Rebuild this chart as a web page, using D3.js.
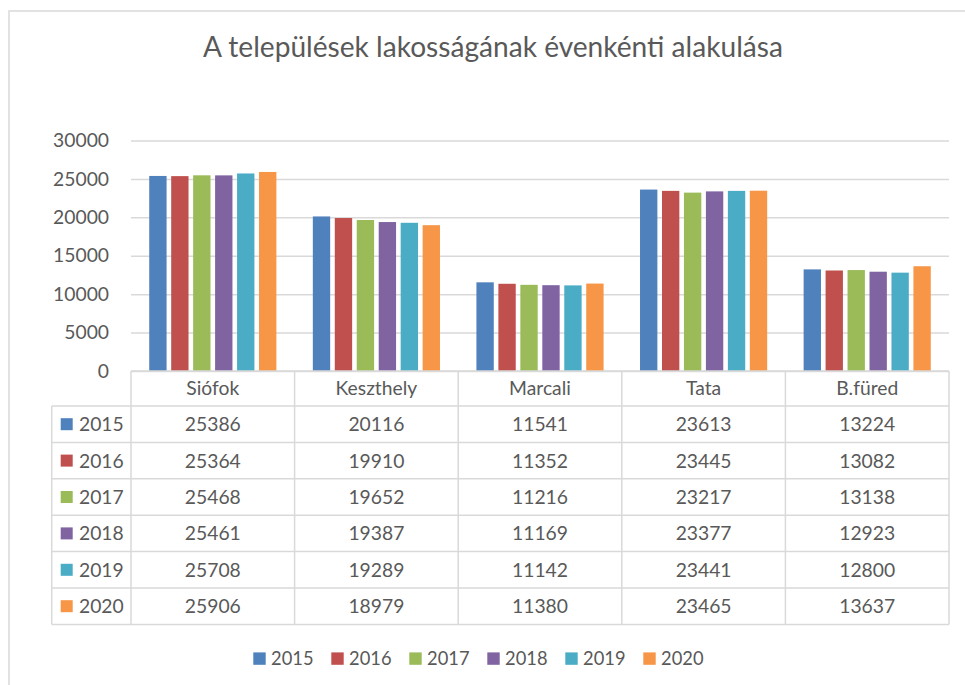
<!DOCTYPE html>
<html><head><meta charset="utf-8">
<script src="https://cdn.jsdelivr.net/npm/d3@7"></script>
<style>
body{margin:0;background:#fff;}
text{font-family:Lato,"Open Sans",sans-serif;fill:#595959;}
</style>
</head><body><svg id="c" width="965" height="685"></svg>
<script>
const title = "A települések lakosságának évenkénti alakulása";
const categories = ["Siófok","Keszthely","Marcali","Tata","B.füred"];
const years = ["2015","2016","2017","2018","2019","2020"];
const v2015 = [25386,20116,11541,23613,13224];
const v2016 = [25364,19910,11352,23445,13082];
const v2017 = [25468,19652,11216,23217,13138];
const v2018 = [25461,19387,11169,23377,12923];
const v2019 = [25708,19289,11142,23441,12800];
const v2020 = [25906,18979,11380,23465,13637];
const series = [v2015,v2016,v2017,v2018,v2019,v2020];
const colors = ["#4F81BD","#C0504D","#9BBB59","#8064A2","#4BACC6","#F79646"];
const yTicks = [0,5000,10000,15000,20000,25000,30000];

const svg = d3.select("#c");
const grid = "#d9d9d9";

// chart frame
svg.append("rect").attr("x",9).attr("y",11).attr("width",1000).attr("height",720)
  .attr("fill","#fff").attr("stroke",grid).attr("stroke-width",1.5);

// title (fit to the reference width)
const tt = svg.append("text").attr("x",493).attr("y",56.5).attr("text-anchor","middle")
  .style("font-size","27px").text(title);
const tw = tt.node().getComputedTextLength();
if (tw > 0) tt.style("font-size", (27*580/tw).toFixed(2)+"px");

const plotL=131, plotR=949, y0=371, yTop=140.5;
const x = d3.scaleBand().domain(categories).range([plotL,plotR]).padding(0);
const xi = d3.scaleBand().domain(years).range([0,x.bandwidth()]).paddingInner(0.21).paddingOuter(0.83);
const y = d3.scaleLinear().domain([0,30000]).range([y0,yTop]);

// gridlines + y labels
const yAxis = d3.axisLeft(y).tickValues(yTicks).tickFormat(d3.format("d"))
  .tickSize(-(plotR-plotL)).tickPadding(22);
const ga = svg.append("g").attr("transform",`translate(${plotL},0)`).call(yAxis);
ga.select(".domain").remove();
ga.selectAll(".tick line").attr("stroke",grid).attr("stroke-width",1.5);
ga.selectAll(".tick text").style("font-size","19.3px").style("font-family","Lato,'Open Sans',sans-serif").attr("fill","#595959");

// bars
years.forEach((yr,i)=>{
  svg.append("g").selectAll("rect").data(series[i]).join("rect")
    .attr("x",(d,j)=>x(categories[j])+xi(yr))
    .attr("y",d=>y(d))
    .attr("width",xi.bandwidth())
    .attr("height",d=>y0-y(d))
    .attr("fill",colors[i]);
});

// data table
const hTop=371, hBot=406, rowH=36.4, tLeft=51.7;
const rowY = d3.scaleBand().domain(years).range([hBot,hBot+rowH*years.length]);
const tBot = hBot+rowH*years.length;
const tg = svg.append("g").attr("stroke",grid).attr("stroke-width",1.5);
tg.append("line").attr("x1",plotL).attr("x2",plotR).attr("y1",hTop).attr("y2",hTop);
[hBot].concat(years.map(yr=>rowY(yr)+rowH)).forEach(yy=>{
  tg.append("line").attr("x1",tLeft).attr("x2",plotR).attr("y1",yy).attr("y2",yy);
});
categories.concat([null]).forEach((c,k)=>{
  const xx = c===null ? plotR : x(c);
  tg.append("line").attr("x1",xx).attr("x2",xx).attr("y1",hTop).attr("y2",tBot);
});
tg.append("line").attr("x1",tLeft).attr("x2",tLeft).attr("y1",hBot).attr("y2",tBot);

// header text
svg.append("g").selectAll("text").data(categories).join("text")
  .attr("x",d=>x(d)+x.bandwidth()/2).attr("y",(hTop+hBot)/2)
  .attr("dy","0.36em").attr("text-anchor","middle").style("font-size","19.3px").text(d=>d);

// rows
years.forEach((yr,i)=>{
  const cy = rowY(yr)+rowH/2;
  const g = svg.append("g");
  g.append("rect").attr("x",60.7).attr("y",cy-6).attr("width",12).attr("height",12).attr("fill",colors[i]);
  g.append("text").attr("x",79).attr("y",cy).attr("dy","0.36em").style("font-size","19.3px").text(yr);
  g.selectAll("text.v").data(series[i]).join("text").attr("class","v")
    .attr("x",(d,j)=>x(categories[j])+x.bandwidth()/2).attr("y",cy).attr("dy","0.36em")
    .attr("text-anchor","middle").style("font-size","19.3px").text(d=>d);
});

// legend
const legX = d3.scalePoint().domain(years).range([253.3,253.3+78.0*5]);
const lg = svg.append("g");
years.forEach((yr,i)=>{
  lg.append("rect").attr("x",legX(yr)).attr("y",652.4).attr("width",12.4).attr("height",12.4).attr("fill",colors[i]);
  lg.append("text").attr("x",legX(yr)+17.8).attr("y",658.6).attr("dy","0.36em").style("font-size","18.3px").text(yr);
});
</script>
</body></html>
